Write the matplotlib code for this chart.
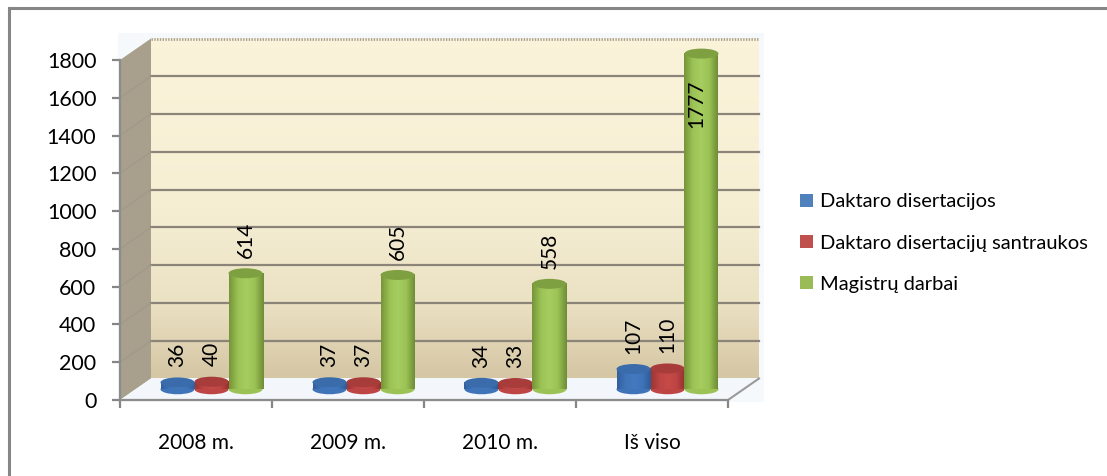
import matplotlib
matplotlib.use("Agg")
import matplotlib.pyplot as plt
import numpy as np
from matplotlib.colors import LinearSegmentedColormap
from matplotlib.lines import Line2D
from matplotlib.patches import Ellipse, Patch, Polygon, Rectangle

categories = ["2008 m.", "2009 m.", "2010 m.", "Iš viso"]
series_names = ["Daktaro disertacijos", "Daktaro disertacijų santraukos", "Magistrų darbai"]
phd = [36, 37, 34, 107]
summaries = [40, 37, 33, 110]
masters = [614, 605, 558, 1777]
y_ticks = [0, 200, 400, 600, 800, 1000, 1200, 1400, 1600, 1800]

W, H = 1107, 476
plt.rcParams["font.family"] = ["Lato", "DejaVu Sans"]

fig = plt.figure(figsize=(W / 100, H / 100), dpi=100)
ax = fig.add_axes([120 / W, (H - 400) / H, 608 / W, 340 / H])
ax.patch.set_visible(False)

# outer frame: only top and left edges show, they run off the picture
fig.add_artist(Line2D([8.5 / W, 1], [(H - 7.5) / H, (H - 7.5) / H], transform=fig.transFigure,
                      color="#868686", linewidth=2.2, solid_capstyle="butt"))
fig.add_artist(Line2D([8.5 / W, 8.5 / W], [0, (H - 7.5) / H], transform=fig.transFigure,
                      color="#868686", linewidth=2.2, solid_capstyle="projecting"))

# depth of the fake 3D box, in data units
DX = 31 / 152
DY = 21.5 * 1800 / 340
XMAX = 4
YMAX = 1800

# halo behind the box
ax.add_patch(Rectangle((-0.01, -DY * 0.1), XMAX + DX + 0.04, YMAX + DY * 1.35,
                       facecolor="#f6f9fc", edgecolor="none", clip_on=False, zorder=0))

# back wall
wall = LinearSegmentedColormap.from_list("wall", ["#fbf3d9", "#f5eed3", "#ebe1c3", "#d5c6a4"])
ax.imshow(np.linspace(0, 1, 256).reshape(-1, 1) ** 1.6, cmap=wall, aspect="auto",
          extent=[DX, XMAX + DX, DY, YMAX + DY], origin="upper", clip_on=False, zorder=1)

# side wall and floor
ax.add_patch(Polygon([(0, 0), (DX, DY), (DX, YMAX + DY), (0, YMAX)],
                     facecolor="#a89f8d", edgecolor="none", clip_on=False, zorder=2))
ax.add_patch(Polygon([(0, 0), (DX, DY), (XMAX + DX, DY), (XMAX, 0)],
                     facecolor="#f3f6fa", edgecolor="none", clip_on=False, zorder=2))
ax.plot([XMAX, XMAX + DX], [0, DY], color="#9a9a9a", linewidth=1.5, clip_on=False, zorder=3)

# gridlines on back wall and side wall
for tick in y_ticks[1:-1]:
    ax.plot([DX, XMAX + DX], [tick + DY, tick + DY], color="#8b8478", linewidth=1.6,
            clip_on=False, zorder=3)
    ax.plot([0, DX], [tick, tick + DY], color="#a0988a", linewidth=0.8,
            clip_on=False, zorder=3)
ax.plot([DX, XMAX + DX], [YMAX + DY, YMAX + DY], color="#a8a396", linewidth=2,
        linestyle=(0, (0.5, 0.5)), clip_on=False, zorder=3)

# cylinders
BAR_W = 34 / 152
ELL_H = 10 * 1800 / 340
styles = [
    (["#32609f", "#3f74b8", "#4379bf", "#3f74b8", "#305c98"], "#3a6cab", "#4f81bd"),
    (["#9c3634", "#bd4543", "#c64a48", "#bd4543", "#953231"], "#a83c3a", "#c0504d"),
    (["#769539", "#9bc254", "#a6cd60", "#9bc254", "#6f8d37"], "#7fa040", "#9bbb59"),
]
series = [phd, summaries, masters]
z = 4
for c in range(len(categories)):
    start = c + 0.5 + DX / 2 - 1.5 * BAR_W
    for s, values in enumerate(series):
        v = values[c]
        left = start + s * BAR_W
        mid = left + BAR_W / 2
        base = DY / 2
        cmap = LinearSegmentedColormap.from_list("bar", styles[s][0])
        ax.add_patch(Ellipse((mid, base), BAR_W, ELL_H, facecolor=styles[s][0][1],
                             edgecolor="none", clip_on=False, zorder=z))
        ax.imshow(np.linspace(0, 1, 64).reshape(1, -1), cmap=cmap, aspect="auto",
                  extent=[left, left + BAR_W, base, base + v], clip_on=False, zorder=z + 0.1)
        ax.add_patch(Ellipse((mid, base + v), BAR_W, ELL_H, facecolor=styles[s][1],
                             edgecolor="none", clip_on=False, zorder=z + 0.2))
        if v > 1000:
            # tallest bar: label sits inside the cylinder
            ax.annotate(str(v), (mid, base + v), xytext=(-3.5, -19), textcoords="offset points",
                        rotation=90, ha="center", va="top", fontsize=15, color="black",
                        zorder=20, annotation_clip=False)
        else:
            ax.annotate(str(v), (mid, base + v), xytext=(0, 11), textcoords="offset points",
                        rotation=90, ha="center", va="bottom", fontsize=15, color="black",
                        zorder=20, annotation_clip=False)
        z += 0.5

ax.set_xlim(0, XMAX)
ax.set_ylim(0, YMAX)

# axes
for name in ["top", "right"]:
    ax.spines[name].set_visible(False)
for name in ["left", "bottom"]:
    ax.spines[name].set_color("#8c8c8c")
    ax.spines[name].set_linewidth(1.6)
    ax.spines[name].set_zorder(3.5)
ax.set_yticks(y_ticks)
ax.set_xticks(range(XMAX + 1))
ax.set_xticklabels([])
ax.set_xticks(np.arange(len(categories)) + 0.5, minor=True)
ax.set_xticklabels(categories, minor=True, fontsize=15)
ax.tick_params(axis="y", length=6, width=1.6, color="#868686", pad=11, labelsize=15.5)
ax.tick_params(axis="x", which="major", length=6, width=1.6, color="#868686")
ax.tick_params(axis="x", which="minor", length=0, pad=24)

# legend
handles = [Patch(facecolor=styles[i][2], edgecolor="none", label=series_names[i]) for i in range(3)]
fig.legend(handles=handles, loc="center left", bbox_to_anchor=(800 / W, (H - 243) / H), frameon=False,
           fontsize=14.5, labelspacing=1.2, handlelength=0.65, handleheight=0.6,
           handletextpad=0.35, borderpad=0, borderaxespad=0)

fig.savefig("out.png", dpi=100)
plt.close(fig)
